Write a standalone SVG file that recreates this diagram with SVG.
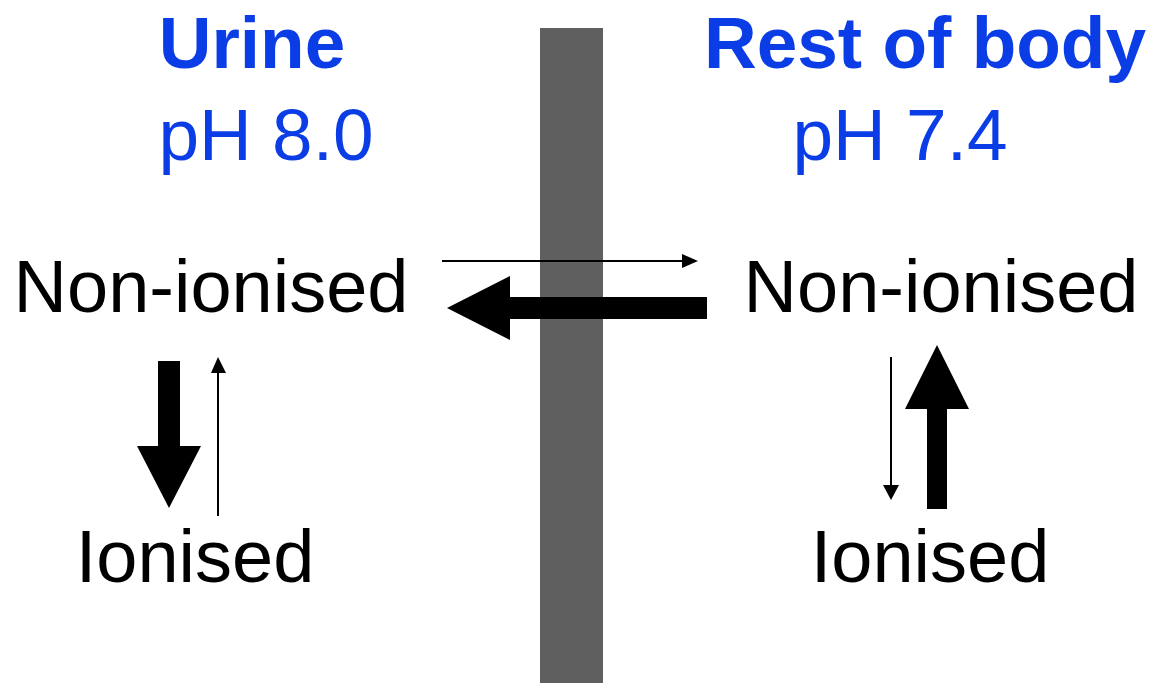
<svg xmlns="http://www.w3.org/2000/svg" width="1153" height="683" viewBox="0 0 1153 683">
  <style>
    .title { font-family: "Liberation Sans", Arial, sans-serif; font-size: 73px; font-weight: bold; fill: #0b3de6; }
    .ph { font-family: "Liberation Sans", Arial, sans-serif; font-size: 73px; fill: #0b3de6; }
    .label { font-family: "Liberation Sans", Arial, sans-serif; font-size: 74px; fill: #000; }
    .thin { stroke: #000; stroke-width: 2; fill: none; }
    .head { fill: #000; }
  </style>
  <rect width="1153" height="683" fill="#fff"/>

  <!-- membrane -->
  <rect id="membrane" x="540" y="28" width="63" height="655" fill="#5f5f5f"/>

  <g id="urine-title">
    <text class="title" x="252" y="68" text-anchor="middle">Urine</text>
    <text class="ph" x="266" y="160" text-anchor="middle">pH 8.0</text>
  </g>
  <g id="body-title">
    <text class="title" x="925" y="68" text-anchor="middle">Rest of body</text>
    <text class="ph" x="900" y="160" text-anchor="middle">pH 7.4</text>
  </g>

  <g id="urine-nonionised"><text class="label" x="211" y="312" text-anchor="middle">Non-ionised</text></g>
  <g id="urine-ionised"><text class="label" x="195" y="582" text-anchor="middle">Ionised</text></g>
  <g id="body-nonionised"><text class="label" x="941" y="312" text-anchor="middle">Non-ionised</text></g>
  <g id="body-ionised"><text class="label" x="930" y="582" text-anchor="middle">Ionised</text></g>

  <g id="connectors">
    <!-- thin: urine -> body across membrane -->
    <line class="thin" x1="442" y1="261" x2="684" y2="261"/>
    <polygon class="head" points="682,254 698,261 682,268"/>
    <!-- thick: body -> urine across membrane -->
    <polygon class="head" points="707,297 510,297 510,276 447,308 510,340 510,319 707,319"/>
    <!-- urine: thick down (non-ionised -> ionised) -->
    <polygon class="head" points="158,361 180,361 180,446 201,446 169,508 137,446 158,446"/>
    <!-- urine: thin up -->
    <line class="thin" x1="218" y1="516" x2="218" y2="372"/>
    <polygon class="head" points="211,373 218,357 226,373"/>
    <!-- body: thin down -->
    <line class="thin" x1="891" y1="357" x2="891" y2="486"/>
    <polygon class="head" points="883,485 899,485 891,500"/>
    <!-- body: thick up (ionised -> non-ionised) -->
    <polygon class="head" points="927,509 947,509 947,409 969,409 937,345 905,409 927,409"/>
  </g>
</svg>
